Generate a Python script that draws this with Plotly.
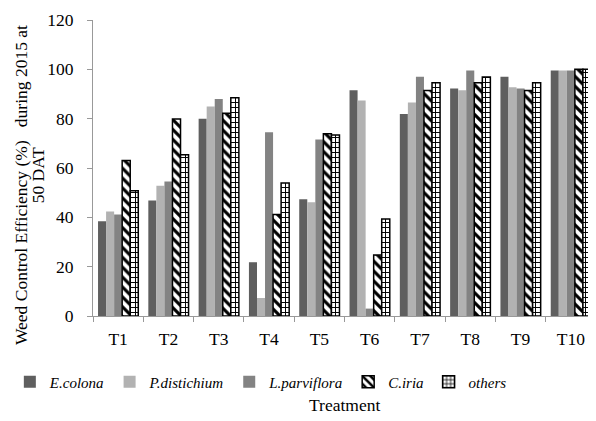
import plotly.graph_objects as go

treatments = ["T1", "T2", "T3", "T4", "T5", "T6", "T7", "T8", "T9", "T10"]
e_colona = [38.4, 46.8, 80.0, 21.8, 47.3, 91.5, 81.9, 92.2, 97.0, 99.5]
p_distichium = [42.4, 52.8, 84.9, 7.3, 46.1, 87.4, 86.6, 91.5, 92.7, 99.5]
l_parviflora = [41.1, 54.5, 88.0, 74.5, 71.6, 3.0, 97.0, 99.5, 92.2, 99.5]
c_iria = [63.0, 79.9, 82.2, 41.1, 73.9, 24.7, 91.4, 94.6, 91.4, 100.0]
others = [50.8, 65.4, 88.5, 53.9, 73.4, 39.3, 94.6, 96.9, 94.6, 100.0]

font = "Liberation Serif"

fig = go.Figure()
fig.add_trace(go.Bar(name="E.colona", x=treatments, y=e_colona,
                     marker=dict(color="#5f5f5f", line=dict(width=0))))
fig.add_trace(go.Bar(name="P.distichium", x=treatments, y=p_distichium,
                     marker=dict(color="#b2b2b2", line=dict(width=0))))
fig.add_trace(go.Bar(name="L.parviflora", x=treatments, y=l_parviflora,
                     marker=dict(color="#838383", line=dict(width=0))))
fig.add_trace(go.Bar(name="C.iria", x=treatments, y=c_iria,
                     marker=dict(color="white", line=dict(color="black", width=1.5),
                                 pattern=dict(shape="\\", fgcolor="black", bgcolor="white",
                                              size=7, solidity=0.45, fillmode="replace"))))
fig.add_trace(go.Bar(name="others", x=treatments, y=others,
                     marker=dict(color="white", line=dict(color="black", width=1.5),
                                 pattern=dict(shape="+", fgcolor="black", bgcolor="white",
                                              size=5, solidity=0.35, fillmode="replace"))))

fig.update_layout(
    width=588, height=413,
    margin=dict(l=85, r=0, t=12, b=105, autoexpand=False),
    paper_bgcolor="white", plot_bgcolor="white",
    barmode="group", bargap=0.2, bargroupgap=0.0,
    font=dict(family=font, size=17.5, color="black"),
    showlegend=True,
    legend=dict(orientation="h", xref="container", x=0.43, xanchor="center",
                y=-0.223, yanchor="middle",
                font=dict(family=font, size=15, style="italic"),
                itemwidth=30, tracegroupgap=0, traceorder="normal"),
    xaxis=dict(
        automargin=False,
        showline=True, linecolor="#999999", linewidth=1,
        ticks="outside", tickson="boundaries", tickcolor="#999999", ticklen=5,
        ticklabelstandoff=7,
        tickfont=dict(family=font, size=17.5),
    ),
    yaxis=dict(
        automargin=False,
        range=[0, 120], dtick=20,
        showline=True, linecolor="#999999", linewidth=1,
        ticks="outside", tickcolor="#999999", ticklen=5,
        ticklabelstandoff=10,
        showgrid=False, zeroline=False,
        tickfont=dict(family=font, size=17.5),
    ),
    annotations=[
        dict(text="Weed Control Efficiency (%)   during 2015 at", xref="paper", yref="paper",
             x=-0.143, y=0.4426, xanchor="center", yanchor="middle", textangle=-90,
             showarrow=False, font=dict(family=font, size=17.5)),
        dict(text="50 DAT", xref="paper", yref="paper",
             x=-0.109, y=0.476, xanchor="center", yanchor="middle", textangle=-90,
             showarrow=False, font=dict(family=font, size=17.5)),
        dict(text="Treatment", xref="paper", yref="paper",
             x=0.5, y=-0.30, xanchor="center", yanchor="middle",
             showarrow=False, font=dict(family=font, size=17.5)),
    ],
)

fig.write_html("out.html")
